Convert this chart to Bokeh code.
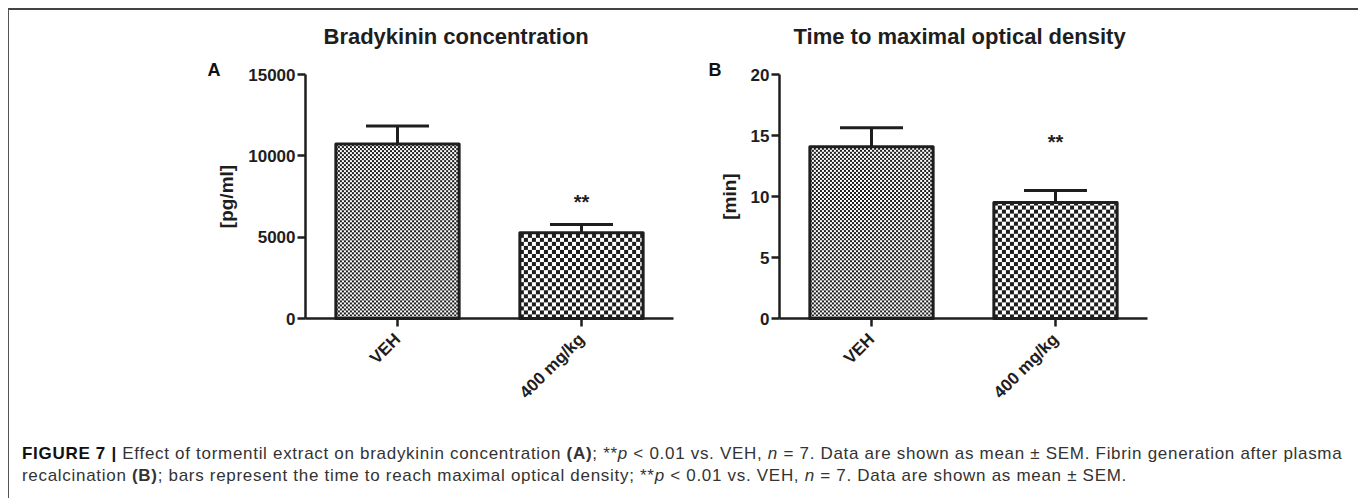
import math
import numpy as np
from bokeh.plotting import figure
from bokeh.models import (Range1d, FixedTicker, Whisker, TeeHead, Label,
                          Div, ColumnDataSource)
from bokeh.layouts import row, column
from bokeh.embed import file_html
from bokeh.resources import INLINE
from bokeh.core.properties import value

# ---------------- data ----------------
groups = ["VEH", "400 mg/kg"]
brady_mean = [10720, 5265]
brady_sem = [1120, 520]
time_mean = [14.07, 9.5]
time_sem = [1.56, 1.0]
brady_ticks = [0, 5000, 10000, 15000]
time_ticks = [0, 5, 10, 15, 20]
stars = ["", "**"]

FONT = "Liberation Sans"
INK = "#1e1e1e"
FIG_H = 415
BELOW = 107       # px from the x axis down to the figure bottom
AX_H = 244        # px from y=0 to top tick
UNIT = 184        # px per category
BAR_W = 0.67


def checker_image(w_px, h_px, cell):
    cols, rows = int(round(w_px)), int(round(h_px))
    img = np.empty((rows, cols), dtype=np.uint32)
    v = img.view(dtype=np.uint8).reshape((rows, cols, 4))
    jj, ii = np.meshgrid(np.arange(cols), np.arange(rows))
    dark = ((ii // cell + jj // cell) % 2) == 0
    for k in range(3):
        v[..., k] = np.where(dark, 0x1e, 0xff)
    v[..., 3] = 255
    return img


def make_panel(title, letter, ylabel, means, sems, ticks, width, axis_px,
               title_dx, letter_dx, star_px):
    ymax = ticks[-1]
    py = ymax / AX_H                      # data units per pixel (y)
    x0 = 0.5 - axis_px / UNIT
    x1 = 0.5 + (width - axis_px) / UNIT
    p = figure(x_range=Range1d(x0, x1),
               y_range=Range1d(-BELOW * py, (FIG_H - BELOW) * py),
               width=width, height=FIG_H, min_border=0,
               output_backend="svg", toolbar_location=None, tools="")
    p.outline_line_color = None
    p.grid.visible = False
    p.background_fill_color = "white"
    p.border_fill_color = "white"

    pos = list(range(1, len(groups) + 1))

    for ax in (p.xaxis[0], p.yaxis[0]):
        ax.axis_line_width = 2.5
        ax.axis_line_color = INK
        ax.major_tick_line_width = 2.5
        ax.major_tick_line_color = INK
        ax.major_tick_out = 8
        ax.major_tick_in = 0
        ax.minor_tick_line_color = None
        ax.major_label_text_font = FONT
        ax.major_label_text_font_style = "bold"
        ax.major_label_text_font_size = "17px"
        ax.major_label_text_color = INK

    p.yaxis.fixed_location = 0.5
    p.yaxis.bounds = (0, ymax)
    p.yaxis.ticker = FixedTicker(ticks=ticks)
    p.yaxis.major_label_standoff = 2
    p.yaxis.axis_label = ylabel
    p.yaxis.axis_label_text_font = FONT
    p.yaxis.axis_label_text_font_style = "bold"
    p.yaxis.axis_label_text_font_size = "19px"
    p.yaxis.axis_label_text_color = INK
    p.yaxis.axis_label_standoff = 8

    p.xaxis.fixed_location = 0
    p.xaxis.ticker = FixedTicker(ticks=pos)
    p.xaxis.major_label_overrides = {x: g for x, g in zip(pos, groups)}
    p.xaxis.bounds = (0.5, len(groups) + 0.5)
    p.xaxis.major_label_orientation = math.pi / 4
    p.xaxis.major_label_standoff = 10

    cells = [2, 4]
    for i, x in enumerate(pos):
        img = checker_image(BAR_W * UNIT, means[i] / py, cells[i])
        p.image_rgba(image=[img], x=x - BAR_W / 2, y=0, dw=BAR_W, dh=means[i])
        p.vbar(x=[x], top=[means[i]], bottom=0, width=BAR_W,
               fill_color=None, line_color=INK, line_width=3, line_join="round")

    upper = [m + s for m, s in zip(means, sems)]
    src = ColumnDataSource(dict(x=pos, lower=means, upper=upper))
    w = Whisker(base="x", lower="lower", upper="upper", source=src,
                dimension="height", line_width=3, line_color=INK,
                lower_head=None,
                upper_head=TeeHead(size=63, line_width=3, line_color=INK))
    p.add_layout(w)

    star_src = ColumnDataSource(dict(x=pos, y=[u + star_px * py for u in upper], t=stars))
    p.text(x="x", y="y", text="t", source=star_src, text_align="center",
           text_baseline="alphabetic", text_font=value(FONT), text_font_style="bold",
           text_font_size="20px", text_color=INK)

    p.add_layout(Label(x=0.5 + title_dx / UNIT, y=282 * py, text=title,
                       text_font=FONT, text_font_style="bold", text_font_size="22px",
                       text_color=INK, text_baseline="alphabetic"))
    p.add_layout(Label(x=0.5 + letter_dx / UNIT, y=249 * py, text=letter,
                       text_font=FONT, text_font_style="bold", text_font_size="18px",
                       text_color="#111", text_baseline="alphabetic"))
    return p


pA = make_panel("Bradykinin concentration", "A", "[pg/ml]", brady_mean, brady_sem,
                brady_ticks, 671, 296, 18, -98, 22)
pB = make_panel("Time to maximal optical density", "B", "[min]", time_mean, time_sem,
                time_ticks, 668, 99, 14, -71, 48)

caption_html = (
    "<div style=\"font-family:'Liberation Sans'; font-size:17px; line-height:21.5px; "
    "color:#333; letter-spacing:0.7px; padding:13px 0 0 8px; white-space:nowrap;\">"
    "<b style='color:#111'>FIGURE 7 |</b> Effect of tormentil extract on bradykinin concentration "
    "<b>(A)</b>; **<i>p</i> &lt; 0.01 vs. VEH, <i>n</i> = 7. Data are shown as mean &plusmn; SEM. "
    "Fibrin generation after plasma<br>recalcination <b>(B)</b>; bars represent the time to reach "
    "maximal optical density; **<i>p</i> &lt; 0.01 vs. VEH, <i>n</i> = 7. Data are shown as "
    "mean &plusmn; SEM.</div>"
)
cap = Div(text=caption_html, width=1339, height=65)

root = column(row(pA, pB), cap,
              styles={"margin-top": "8px", "margin-left": "8px",
                      "border-top": "2px solid #444", "border-left": "1px solid #555",
                      "border-right": "2px solid #777"})

open("out.html", "w").write(file_html(root, INLINE))
